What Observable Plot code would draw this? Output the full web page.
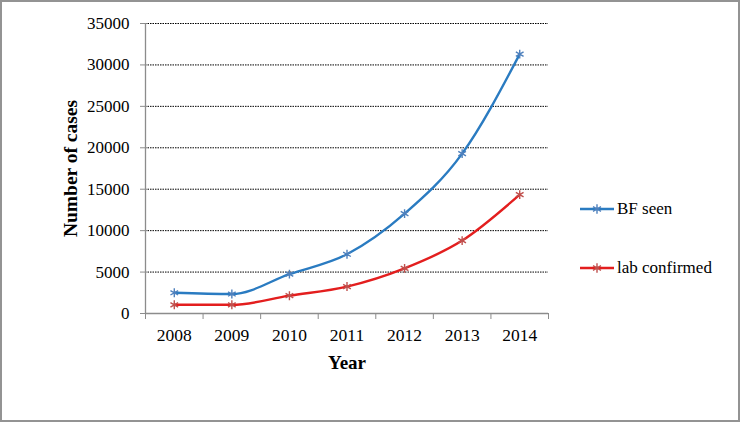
<!DOCTYPE html>
<html>
<head>
<meta charset="utf-8">
<script src="https://cdn.jsdelivr.net/npm/d3@7"></script>
<script src="https://cdn.jsdelivr.net/npm/@observablehq/plot@0.6"></script>
<style>
  html, body { margin: 0; padding: 0; background: #fff; }
  #wrap { position: relative; width: 741px; height: 423px; overflow: hidden; font-family: "Liberation Serif", "Times New Roman", serif; }
  #wrap svg text { font-family: "Liberation Serif", "Times New Roman", serif; }
  #border { position: absolute; left: 0; top: 0; width: 740px; height: 422px; box-sizing: border-box; border: 2px solid #939393; pointer-events: none; }
  #legend { position: absolute; left: 578px; top: 0; font-size: 17px; color: #000; }
  .item { position: absolute; left: 0; display: flex; align-items: center; white-space: nowrap; }
  .item svg { margin-right: 3px; }
</style>
</head>
<body>
<div id="wrap"><div id="legend"></div><div id="border"></div></div>
<script>
const years = ["2008", "2009", "2010", "2011", "2012", "2013", "2014"];
const bfSeen = [2500, 2350, 4750, 7150, 12050, 19300, 31300];
const labConfirmed = [1050, 1050, 2150, 3250, 5450, 8800, 14350];
const seriesNames = ["BF seen", "lab confirmed"];
const lineColors = ["#2a7bc1", "#e31e1e"];
const markerColors = ["#4f81bd", "#c0504d"];
const yTicks = [0, 5000, 10000, 15000, 20000, 25000, 30000, 35000];

const seriesValues = [bfSeen, labConfirmed];
const data = [];
seriesValues.forEach((vals, s) => vals.forEach((v, i) => data.push({i, v, series: seriesNames[s]})));

const idx = years.map((_, i) => i);
const bounds = years.map((_, i) => i - 0.5).concat([years.length - 0.5]);
const font = "'Liberation Serif', 'Times New Roman', serif";

const marks = [
  Plot.gridY(yTicks.slice(1), {stroke: "#000", strokeOpacity: 1, strokeWidth: 1, strokeDasharray: "1.5,1"}),
  Plot.axisY({ticks: yTicks, tickSize: 5, tickPadding: 11, stroke: "#8c8c8c", fontSize: 17, fontFamily: font, label: null, tickFormat: d => String(d)}),
  Plot.axisX({ticks: bounds, tickSize: 6, stroke: "#8c8c8c", tickFormat: () => "", label: null}),
  Plot.axisX({ticks: idx, tickSize: 0, tickPadding: 15, fontSize: 17.5, fontFamily: font, tickFormat: i => years[i], label: null}),
  Plot.ruleX([bounds[0]], {stroke: "#8c8c8c", strokeWidth: 1.3}),
  Plot.ruleY([0], {stroke: "#8c8c8c", strokeWidth: 1.3}),
  Plot.text(["Year"], {frameAnchor: "bottom", dy: 49, lineAnchor: "middle", fontSize: 19, fontWeight: "bold", fontFamily: font, fill: "#000"}),
  Plot.text(["Number of cases"], {frameAnchor: "left", dx: -75, rotate: -90, lineAnchor: "middle", textAnchor: "middle", fontSize: 19.5, fontWeight: "bold", fontFamily: font, fill: "#000"})
];
seriesNames.forEach((name, s) => {
  const d = data.filter(r => r.series === name);
  marks.push(Plot.line(d, {x: "i", y: "v", stroke: lineColors[s], strokeWidth: 2.4, curve: "monotone-x"}));
  marks.push(Plot.dot(d, {x: "i", y: "v", symbol: "asterisk", r: 4.2, stroke: markerColors[s], strokeWidth: 1.4}));
});

const chart = Plot.plot({
  width: 741,
  height: 423,
  marginLeft: 145,
  marginRight: 193,
  marginTop: 23,
  marginBottom: 110,
  style: {fontFamily: font, fontSize: "17px", color: "#000", background: "transparent", overflow: "visible"},
  x: {type: "linear", domain: [bounds[0], bounds[bounds.length - 1]], axis: null},
  y: {type: "linear", domain: [0, 35000], axis: null},
  marks
});
chart.style.position = "absolute";
chart.style.left = "0px";
chart.style.top = "0px";
document.getElementById("wrap").prepend(chart);

// legend
const legend = document.getElementById("legend");
const legendTops = [197, 256];
seriesNames.forEach((name, s) => {
  const item = document.createElement("div");
  item.className = "item";
  item.style.top = legendTops[s] + "px";
  const sv = d3.create("svg").attr("width", 36).attr("height", 24);
  sv.append("line").attr("x1", 2).attr("x2", 36).attr("y1", 12).attr("y2", 12)
    .attr("stroke", lineColors[s]).attr("stroke-width", 2.4);
  sv.append("path").attr("d", d3.symbol(d3.symbolAsterisk, 60)()).attr("transform", "translate(19,12)")
    .attr("stroke", markerColors[s]).attr("stroke-width", 1.4).attr("fill", "none");
  item.appendChild(sv.node());
  const t = document.createElement("span");
  t.textContent = name;
  item.appendChild(t);
  legend.appendChild(item);
});
</script>
</body>
</html>
